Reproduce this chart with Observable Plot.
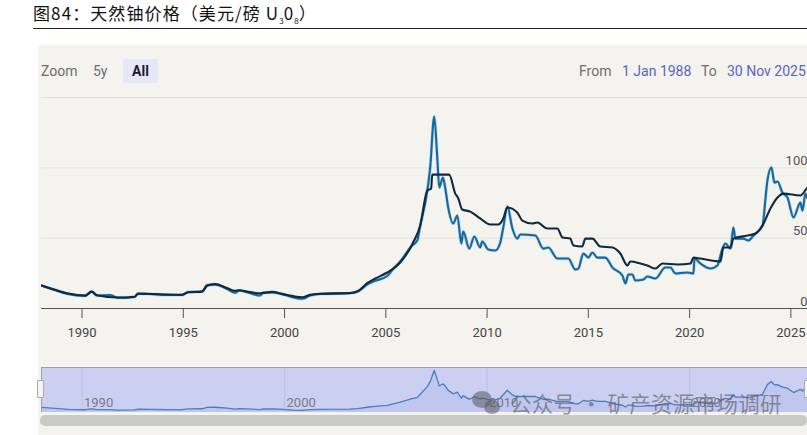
<!DOCTYPE html>
<html lang="zh">
<head>
<meta charset="utf-8">
<script src="https://cdn.jsdelivr.net/npm/d3@7"></script>
<script src="https://cdn.jsdelivr.net/npm/@observablehq/plot@0.6"></script>
<style>
html,body{margin:0;padding:0;background:#fff;width:807px;height:435px;overflow:hidden;font-family:Roboto,"Noto Sans CJK SC",sans-serif}
.abs{position:absolute;white-space:nowrap}
#title{left:33px;top:1px;font:17px/24px "Noto Sans CJK SC",sans-serif;color:#111;letter-spacing:1.1px}
#title sub{font-size:8px;line-height:0;letter-spacing:0}
#rule{left:33px;top:28px;width:774px;height:1px;background:#222}
#panel{left:38px;top:45px;width:769px;height:390px;background:#f4f3ee}
.ctl{font-size:14px;line-height:18px;top:62px;color:#6e6e6e}
.blue{color:#5a63c2}
#all{left:123px;top:59px;width:35px;height:24px;background:#e6e8fa;border-radius:2px;font-weight:700;color:#1c1c33;text-align:center;line-height:24px;font-size:14px}
#main,#nav{position:absolute;left:0}
#main{top:45px}#nav{top:360px}
#main svg,#nav svg{background:transparent;display:block}
#scroll{left:40px;top:415px;width:767px;height:11px;background:#c9c9c6;border-radius:5px}
.handle{top:380px;width:5px;height:16px;background:#f5f5f5;border:1px solid #aaa;border-radius:1px}
#wm{left:510px;top:389px;font:21.5px/28px "Noto Sans CJK SC",sans-serif;color:rgba(90,90,95,.62);letter-spacing:.3px}
.bub{border-radius:50%;background:rgba(90,90,95,.55)}
</style>
</head>
<body>
<div class="abs" id="title">图84：天然铀价格（美元/磅 U<sub>3</sub>0<sub>8</sub>）</div>
<div class="abs" id="rule"></div>
<div class="abs" id="panel"></div>
<div class="abs ctl" style="left:41px">Zoom</div>
<div class="abs ctl" style="left:93px">5y</div>
<div class="abs" id="all">All</div>
<div class="abs ctl" style="left:579px">From</div>
<div class="abs ctl blue" style="left:622px">1 Jan 1988</div>
<div class="abs ctl" style="left:701px">To</div>
<div class="abs ctl blue" style="left:727px">30 Nov 2025</div>
<div id="main"></div>
<div id="nav"></div>
<div class="abs" id="scroll"></div>
<div class="abs handle" style="left:37px"></div>
<div class="abs handle" style="left:804px"></div>
<div class="abs bub" style="left:472px;top:391px;width:20px;height:17px"></div>
<div class="abs bub" style="left:484px;top:400px;width:16px;height:14px"></div>
<div class="abs" id="wm">公众号 · 矿产资源市场调研</div>
<script>
const xStart = 1988, xEnd = 2025.82;
const xTicks = [1990, 1995, 2000, 2005, 2010, 2015, 2020, 2025];
const yTicks = [0, 50, 100];
const gridValues = [50, 100, 150];
const navTicks = [1990, 2000, 2010, 2020];

const spotYears = [1988,1988.67,1989.3,1990.15,1990.48,1990.74,1991.38,1991.78,1992.6,1992.77,1993.36,1994.2,1994.94,1995.24,1995.93,1996.18,1996.57,1997.16,1997.56,1997.76,1998.15,1998.8,1998.94,1999.39,1999.93,2000.42,2000.87,2001.26,2001.76,2003.24,2003.64,2004.08,2004.48,2005.07,2005.37,2005.71,2006.3,2006.55,2006.7,2007.05,2007.19,2007.39,2007.54,2007.64,2007.82,2007.93,2008.08,2008.33,2008.53,2008.73,2008.82,2009.12,2009.37,2009.66,2009.76,2010.06,2010.41,2010.65,2010.8,2011,2011.25,2011.49,2011.64,2012.38,2012.78,2013.02,2013.47,2014.01,2014.36,2014.51,2014.75,2015,2015.2,2015.44,2015.84,2016.19,2016.68,2016.83,2016.98,2017.17,2017.32,2017.72,2017.91,2018.31,2018.8,2019.05,2019.3,2019.89,2020.19,2020.24,2020.53,2021.03,2021.37,2021.62,2021.77,2022.02,2022.16,2022.26,2022.66,2022.9,2023.15,2023.6,2023.75,2023.84,2024.04,2024.19,2024.34,2024.58,2024.83,2025.13,2025.47,2025.57,2025.72,2025.82,2025.92];
const spotValues = [16.3,13.3,10.4,9,12.1,9.2,9.5,7.6,8.2,10.7,10.3,9.6,9.6,11.7,12.1,16.7,17.1,13.9,11.2,12.8,11.6,9.2,11.4,11.4,10,8,6.9,9.2,10.3,10.9,12.3,17,19.7,23.1,28.2,33.4,44.8,48.3,59,83.9,100.2,136.5,107.3,86,93.1,86,71.8,60.4,66.1,46.2,54.7,42.6,51.2,43.4,47.6,41.9,41.2,46.9,57.6,72.5,56.9,49.7,52.6,51.9,42.6,43.4,35.5,35.5,27.7,28.4,39.1,36.2,39.8,36.2,36.2,29.1,23.5,17.8,24.2,24.2,19.9,20.6,22.7,21.3,29.1,29.1,24.9,25.6,24.9,35.5,32,28.4,30.6,42.6,46.2,42.6,57.6,49.7,49.7,48.3,51.9,59,78.9,91,100.2,89.5,90.3,82.4,78.9,64.7,75.3,69.6,81.7,78.2,80];

const longYears = [1988,1989.3,1990.15,1990.48,1990.74,1991.78,1992.6,1992.77,1994.94,1995.24,1995.93,1996.18,1996.57,1997.16,1997.56,1997.76,1998.15,1998.8,1999.39,1999.93,2000.42,2000.87,2001.26,2001.76,2003.24,2003.64,2004.08,2004.48,2005.07,2005.71,2006.35,2006.7,2007.05,2007.24,2007.29,2008.13,2008.43,2008.58,2008.77,2009.17,2009.66,2010.16,2010.55,2010.8,2011,2011.49,2011.74,2012.23,2012.48,2012.97,2013.47,2013.72,2014.11,2014.26,2014.7,2014.85,2015.2,2015.59,2016.19,2016.58,2016.93,2017.07,2017.57,2017.91,2018.31,2018.66,2019.4,2020.04,2020.19,2020.53,2021.52,2021.67,2022.02,2022.16,2022.86,2023.25,2023.6,2023.99,2024.34,2024.63,2025.47,2025.82,2025.92];
const longValues = [16.3,10.6,9.2,12,9.4,7.8,8.4,10.5,9.8,11.5,12,16.2,17.3,14.5,12.5,13,12,10.8,11.8,10.2,8.8,8,9.8,10.5,11,12.5,18,21.3,25.6,32.7,46.9,59,83.9,85.3,95.2,95.2,81.7,78.2,70.4,68.9,64,59.7,59.7,64,71.8,68.2,62.5,60.4,61.1,56.9,56.9,50.5,49.7,44.8,44.1,49.7,49.7,44.1,43.4,39.1,30.6,33.4,32,30.6,28.4,32,31.3,32,36.2,35.5,33.4,43.4,43.4,49.7,51.9,53.3,59,71.1,78.9,81.7,80.3,86,87];

const spot = spotYears.map((year, i) => ({year, value: spotValues[i]}));
const long = longYears.map((year, i) => ({year, value: longValues[i]}));
const spotColor = "#14689f", longColor = "#10293c";
const curve = "monotone-x";

const main = Plot.plot({
  width: 807, height: 300,
  marginLeft: 41, marginRight: 0, marginTop: 52, marginBottom: 37,
  style: {background: "transparent", fontFamily: "Roboto, sans-serif", fontSize: "13px", color: "#444"},
  x: {domain: [xStart, xEnd], axis: null},
  y: {domain: [0, 150], axis: null},
  marks: [
    Plot.ruleY(gridValues, {stroke: "#e3e3dd", strokeWidth: 1}),
    Plot.line(spot, {x: "year", y: "value", curve, stroke: "#8fc3e6", strokeWidth: 3.4, strokeOpacity: .45, clip: true}),
    Plot.line(spot, {x: "year", y: "value", curve, stroke: spotColor, strokeWidth: 2.1, clip: true}),
    Plot.line(long, {x: "year", y: "value", curve, stroke: longColor, strokeWidth: 2.1, clip: true}),
    Plot.ruleY([0], {stroke: "#555", strokeWidth: 1}),
    Plot.axisX({ticks: xTicks, tickFormat: "d", tickSize: 10, tickPadding: 9, stroke: "#555", fill: "#444", label: null}),
    Plot.text(yTicks, {x: xEnd, y: d => d, text: d => String(d), textAnchor: "end", dy: -7, fill: "#555", fontSize: 13})
  ]
});
document.getElementById("main").append(main);

const nav = Plot.plot({
  width: 807, height: 75,
  marginLeft: 41, marginRight: 0, marginTop: 7, marginBottom: 23,
  style: {background: "transparent", fontFamily: "Roboto, sans-serif", fontSize: "13px"},
  x: {domain: [xStart, xEnd], axis: null},
  y: {domain: [0, 146], axis: null},
  marks: [
    Plot.rect([{}], {x1: xStart, x2: xEnd, y1: 0, y2: 146, fill: "#cbcff2"}),
    Plot.ruleX(navTicks, {stroke: "#bcc0e4", strokeWidth: 1}),
    Plot.areaY(spot, {x: "year", y: "value", fill: "#b6c0ec", fillOpacity: .5, clip: true}),
    Plot.line(spot, {x: "year", y: "value", stroke: "#4c7ebd", strokeWidth: 1.3, clip: true}),
    Plot.ruleY([146], {stroke: "#9a9fb5", strokeWidth: 1.2}),
    Plot.ruleX([xStart], {stroke: "#9a9fb5", strokeWidth: 1}),
    Plot.text(navTicks, {x: d => d, frameAnchor: "bottom", text: d => String(d), textAnchor: "start", dx: 2, dy: -6, fill: "#7a7a88", fontSize: 13})
  ]
});
document.getElementById("nav").append(nav);
</script>
</body>
</html>
